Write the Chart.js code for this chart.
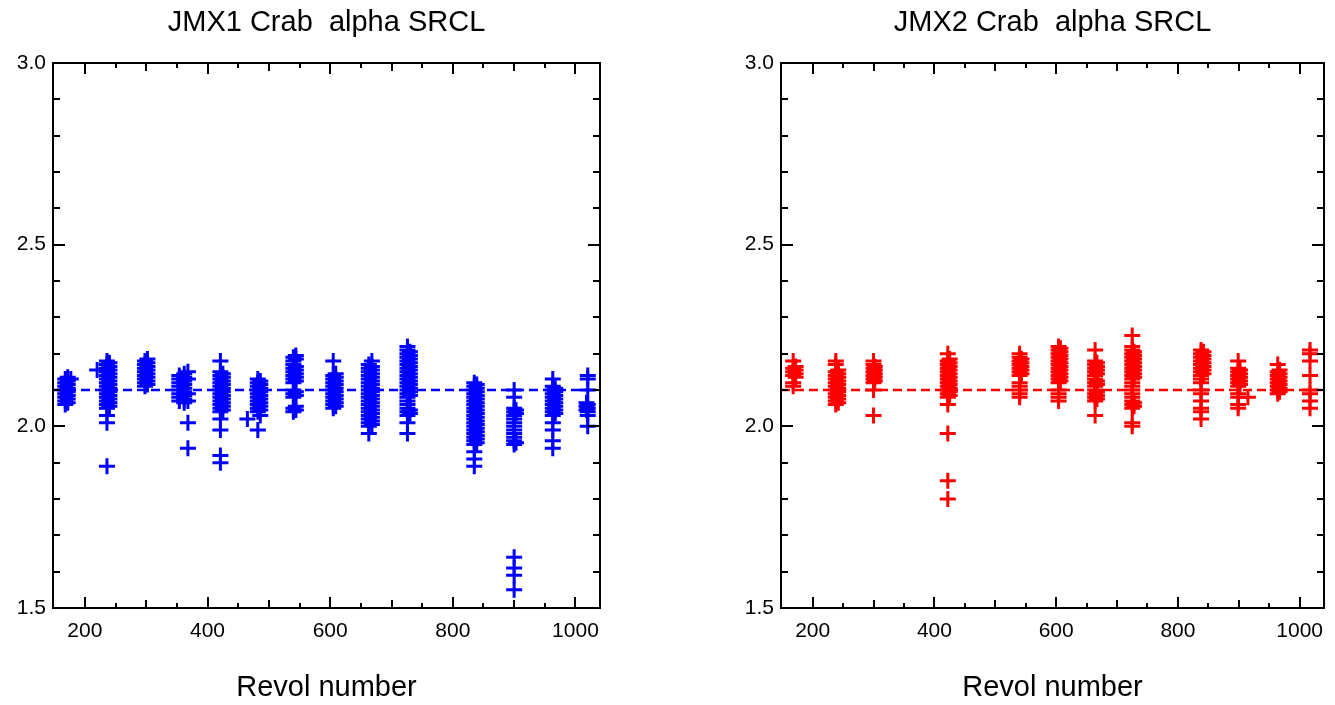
<!DOCTYPE html>
<html>
<head>
<meta charset="utf-8">
<script src="https://cdn.jsdelivr.net/npm/chart.js@4/dist/chart.umd.min.js"></script>
<style>
    body { margin: 0; background: #fff; }
    .panel { position: absolute; top: 0; width: 667px; height: 705px; }
</style>
</head>
<body>
<div class="panel" style="left:0px"><canvas id="Jmx1Chart"></canvas></div>
<div class="panel" style="left:668px"><canvas id="Jmx2Chart"></canvas></div>
<script>
// revolution numbers and measured alpha values, one list of values per revol
const jmx1Revol = [168, 172, 177, 220, 236, 240, 298, 302, 354, 362, 368, 421, 425, 465, 482, 486,
    540, 544, 605, 609, 663, 668, 726, 730, 835, 839, 900, 903, 963, 967, 1018, 1020];
const jmx1Alpha = [
    [2.13, 2.12, 2.11, 2.10, 2.09, 2.08, 2.07, 2.06],
    [2.135, 2.125, 2.115, 2.105, 2.095, 2.085, 2.075, 2.065],
    [2.13],
    [2.155],
    [2.18, 2.17, 2.16, 2.15, 2.14, 2.13, 2.12, 2.11, 2.10, 2.09, 2.08, 2.07, 2.06, 2.05, 2.03, 2.01, 1.89],
    [2.175, 2.165, 2.155, 2.145, 2.135, 2.125, 2.115, 2.105, 2.095, 2.085, 2.075, 2.065, 2.055],
    [2.18, 2.17, 2.16, 2.15, 2.14, 2.13, 2.12, 2.11],
    [2.185, 2.175, 2.165, 2.155, 2.145, 2.135, 2.125, 2.115],
    [2.14, 2.13, 2.12, 2.11, 2.10, 2.09, 2.08, 2.07],
    [2.145, 2.135, 2.125, 2.115, 2.105, 2.095, 2.085, 2.075, 2.065],
    [2.15, 2.13, 2.09, 2.07, 2.01, 1.94],
    [2.18, 2.15, 2.14, 2.13, 2.12, 2.11, 2.10, 2.09, 2.08, 2.07, 2.06, 2.05, 2.04, 2.02, 1.99, 1.92, 1.90],
    [2.145, 2.135, 2.125, 2.115, 2.105, 2.095, 2.085, 2.075, 2.065, 2.055, 2.045],
    [2.02],
    [2.13, 2.12, 2.11, 2.10, 2.09, 2.08, 2.07, 2.06, 2.05, 2.04, 1.99],
    [2.125, 2.115, 2.105, 2.095, 2.085, 2.075, 2.065, 2.055, 2.045, 2.03],
    [2.19, 2.18, 2.17, 2.16, 2.15, 2.14, 2.13, 2.12, 2.10, 2.09, 2.08, 2.05, 2.04],
    [2.195, 2.185, 2.165, 2.155, 2.145, 2.135, 2.125, 2.095, 2.085, 2.055, 2.045],
    [2.18, 2.14, 2.13, 2.12, 2.11, 2.10, 2.09, 2.08, 2.07, 2.06, 2.05],
    [2.145, 2.135, 2.125, 2.115, 2.105, 2.095, 2.085, 2.075, 2.065, 2.055],
    [2.17, 2.16, 2.15, 2.14, 2.13, 2.12, 2.11, 2.10, 2.09, 2.08, 2.07, 2.06, 2.05, 2.04, 2.03, 2.02, 2.01, 2.00, 1.98],
    [2.18, 2.165, 2.155, 2.145, 2.135, 2.125, 2.115, 2.105, 2.095, 2.085, 2.075, 2.065, 2.055, 2.045, 2.035, 2.025, 2.015, 2.005],
    [2.22, 2.21, 2.20, 2.19, 2.18, 2.17, 2.16, 2.15, 2.14, 2.13, 2.12, 2.11, 2.10, 2.09, 2.08, 2.07, 2.06, 2.05, 2.04, 2.03, 2.01, 1.98],
    [2.205, 2.195, 2.185, 2.175, 2.165, 2.155, 2.145, 2.135, 2.125, 2.115, 2.105, 2.095, 2.085, 2.045, 2.035],
    [2.12, 2.11, 2.10, 2.09, 2.08, 2.07, 2.06, 2.05, 2.04, 2.03, 2.02, 2.01, 2.00, 1.99, 1.98, 1.97, 1.96, 1.95, 1.93, 1.91, 1.89],
    [2.115, 2.105, 2.095, 2.085, 2.075, 2.065, 2.055, 2.045, 2.035, 2.025, 2.015, 2.005, 1.995, 1.985, 1.975, 1.965, 1.955],
    [2.10, 2.08, 2.05, 2.04, 2.03, 2.02, 2.01, 2.00, 1.99, 1.98, 1.97, 1.96, 1.95, 1.64, 1.61, 1.59, 1.55],
    [2.045, 2.035, 1.955],
    [2.13, 2.11, 2.10, 2.09, 2.08, 2.07, 2.06, 2.05, 2.04, 2.03, 2.01, 1.99, 1.96, 1.94],
    [2.105, 2.095, 2.085, 2.075, 2.065, 2.055, 2.045, 2.035],
    [2.065, 2.055, 2.045],
    [2.14, 2.13, 2.10, 2.06, 2.05, 2.04, 2.03, 2.00]
];

const jmx2Revol = [168, 172, 238, 242, 300, 302, 422, 425, 540, 543, 604, 607, 664, 667,
    725, 728, 838, 842, 899, 902, 915, 964, 967, 1017];
const jmx2Alpha = [
    [2.18, 2.16, 2.15, 2.14, 2.12, 2.11],
    [2.165, 2.155, 2.145, 2.135],
    [2.18, 2.17, 2.15, 2.14, 2.13, 2.12, 2.11, 2.10, 2.09, 2.08, 2.07, 2.06],
    [2.155, 2.145, 2.135, 2.125, 2.115, 2.105, 2.095, 2.085, 2.075, 2.065],
    [2.18, 2.17, 2.16, 2.15, 2.14, 2.13, 2.12, 2.10, 2.03],
    [2.165, 2.155, 2.145, 2.135, 2.125],
    [2.20, 2.18, 2.17, 2.16, 2.15, 2.14, 2.13, 2.12, 2.11, 2.10, 2.09, 2.08, 2.06, 1.98, 1.85, 1.80],
    [2.185, 2.175, 2.165, 2.155, 2.145, 2.135, 2.125, 2.115, 2.105, 2.095, 2.085],
    [2.20, 2.19, 2.18, 2.17, 2.16, 2.15, 2.14, 2.12, 2.11, 2.10, 2.09, 2.08],
    [2.185, 2.175, 2.165, 2.155, 2.145],
    [2.22, 2.21, 2.20, 2.19, 2.18, 2.17, 2.16, 2.15, 2.14, 2.13, 2.12, 2.10, 2.09, 2.08, 2.07],
    [2.215, 2.205, 2.195, 2.185, 2.175, 2.165, 2.155, 2.145, 2.135, 2.125],
    [2.21, 2.18, 2.17, 2.16, 2.15, 2.14, 2.13, 2.12, 2.11, 2.10, 2.09, 2.08, 2.07, 2.03],
    [2.175, 2.165, 2.155, 2.145, 2.125, 2.115, 2.095, 2.085, 2.075],
    [2.25, 2.22, 2.21, 2.20, 2.19, 2.18, 2.17, 2.16, 2.15, 2.14, 2.13, 2.12, 2.11, 2.10, 2.09, 2.08, 2.07, 2.06, 2.05, 2.01, 2.00],
    [2.205, 2.195, 2.185, 2.175, 2.165, 2.155, 2.145, 2.135, 2.065, 2.055],
    [2.21, 2.20, 2.19, 2.18, 2.17, 2.16, 2.15, 2.14, 2.13, 2.12, 2.10, 2.09, 2.07, 2.05, 2.04, 2.02],
    [2.205, 2.195, 2.185, 2.175, 2.165, 2.155, 2.145],
    [2.18, 2.16, 2.15, 2.14, 2.13, 2.12, 2.11, 2.09, 2.08, 2.06, 2.05],
    [2.155, 2.145, 2.135, 2.125, 2.115],
    [2.08],
    [2.17, 2.15, 2.14, 2.13, 2.12, 2.11, 2.10, 2.09],
    [2.155, 2.145, 2.135, 2.125, 2.115, 2.105, 2.095],
    [2.21, 2.20, 2.18, 2.14, 2.10, 2.09, 2.07, 2.05]
];

// mean alpha drawn as the dashed reference line
const jmx1Mean = 2.10;
const jmx2Mean = 2.10;

const revolRange = [148, 1040];
const alphaRange = [1.5, 3.0];
const revolTicks = [200, 400, 600, 800, 1000];
const alphaTicks = [1.5, 2.0, 2.5, 3.0];

const fontFamily = "'Liberation Sans', Arial, sans-serif";

// box around the plot with inward tick marks on all four sides
const frameTicks = {
    id: 'frameTicks',
    afterDatasetsDraw(chart) {
        const ctx = chart.ctx;
        const a = chart.chartArea;
        const xs = chart.scales.x;
        const ys = chart.scales.y;
        ctx.save();
        ctx.strokeStyle = '#000';
        ctx.lineWidth = 2;
        ctx.beginPath();
        for (let v = 150; v <= revolRange[1]; v += 50) {
            const px = Math.round(xs.getPixelForValue(v));
            if (px <= a.left + 2 || px >= a.right - 2) continue;
            const len = v % 200 === 0 ? 11 : (v % 100 === 0 ? 8 : 5);
            ctx.moveTo(px, a.bottom); ctx.lineTo(px, a.bottom - len);
            ctx.moveTo(px, a.top); ctx.lineTo(px, a.top + len);
        }
        for (let i = 15; i <= 30; i++) {
            const py = Math.round(ys.getPixelForValue(i / 10));
            const len = i % 5 === 0 ? 12 : 7;
            ctx.moveTo(a.left, py); ctx.lineTo(a.left + len, py);
            ctx.moveTo(a.right, py); ctx.lineTo(a.right - len, py);
        }
        ctx.stroke();
        ctx.strokeRect(a.left, a.top, a.right - a.left, a.bottom - a.top);
        ctx.restore();
    }
};

function buildPoints(revols, alphas) {
    const points = [];
    revols.forEach(function (r, i) {
        alphas[i].forEach(function (v) { points.push({x: r, y: v}); });
    });
    return points;
}

function createChart(canvasId, title, revols, alphas, mean, color, padLeft, padRight) {
    const ctx = document.getElementById(canvasId).getContext('2d');
    return new Chart(ctx, {
        type: 'scatter',
        data: {
            datasets: [{
                data: buildPoints(revols, alphas),
                pointStyle: 'cross',
                pointRadius: 8,
                borderWidth: 3,
                borderColor: color,
                backgroundColor: color
            }, {
                type: 'line',
                data: [{x: revolRange[0], y: mean}, {x: revolRange[1], y: mean}],
                borderColor: color,
                borderWidth: 2.5,
                borderDash: [9, 5],
                pointRadius: 0,
                fill: false
            }]
        },
        options: {
            responsive: true,
            maintainAspectRatio: false,
            animation: false,
            events: [],
            layout: { padding: { left: padLeft, right: padRight, top: 0, bottom: 0 } },
            plugins: {
                legend: { display: false },
                tooltip: { enabled: false },
                title: {
                    display: true,
                    text: title,
                    fullSize: false,
                    color: '#000',
                    font: { family: fontFamily, size: 29, weight: 'normal' },
                    padding: { top: 6, bottom: 22.2 }
                }
            },
            scales: {
                x: {
                    type: 'linear',
                    min: revolRange[0],
                    max: revolRange[1],
                    grid: { display: false, drawTicks: false },
                    border: { display: false },
                    afterBuildTicks: function (s) { s.ticks = revolTicks.map(function (v) { return {value: v}; }); },
                    afterFit: function (s) { s.height = 97; },
                    ticks: {
                        autoSkip: false,
                        maxRotation: 0,
                        padding: 11,
                        color: '#000',
                        font: { family: fontFamily, size: 21 },
                        callback: function (v) { return String(v); }
                    },
                    title: {
                        display: true,
                        text: 'Revol number',
                        color: '#000',
                        padding: { top: 0, bottom: 0 },
                        font: { family: fontFamily, size: 29 }
                    }
                },
                y: {
                    min: alphaRange[0],
                    max: alphaRange[1],
                    grid: { display: false, drawTicks: false },
                    border: { display: false },
                    afterBuildTicks: function (s) { s.ticks = alphaTicks.map(function (v) { return {value: v}; }); },
                    afterFit: function (s) { s.width = 53; },
                    ticks: {
                        padding: 7,
                        color: '#000',
                        font: { family: fontFamily, size: 21 },
                        callback: function (v) { return v.toFixed(1); }
                    }
                }
            }
        },
        plugins: [frameTicks]
    });
}

this.Jmx1Chart = createChart('Jmx1Chart', 'JMX1 Crab  alpha SRCL', jmx1Revol, jmx1Alpha, jmx1Mean, '#0000ff', 0, 67);
this.Jmx2Chart = createChart('Jmx2Chart', 'JMX2 Crab  alpha SRCL', jmx2Revol, jmx2Alpha, jmx2Mean, '#ff0000', 60, 10);
</script>
</body>
</html>
